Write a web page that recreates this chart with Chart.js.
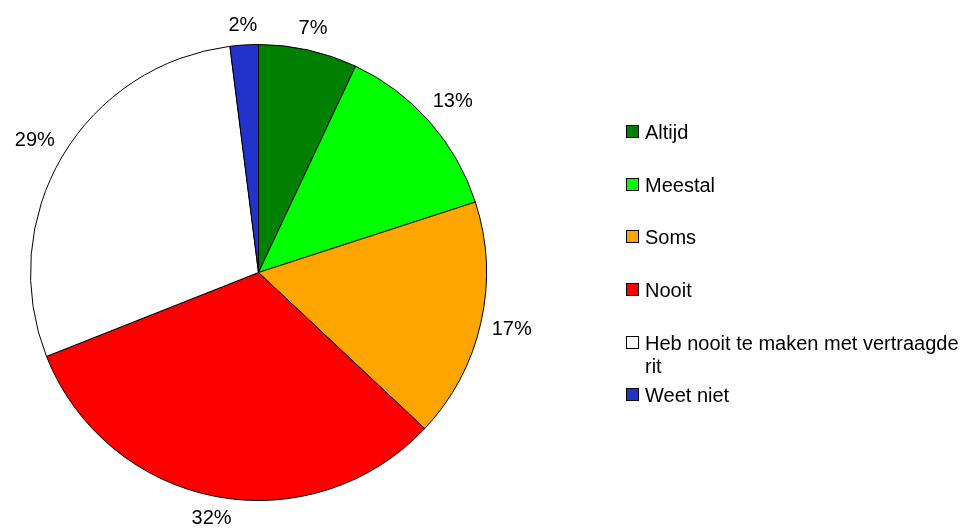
<!DOCTYPE html>
<html>
<head>
<meta charset="utf-8">
<script src="https://cdn.jsdelivr.net/npm/chart.js@4/dist/chart.umd.min.js"></script>
<style>
html,body{margin:0;padding:0;background:#fff;}
#wrap{width:972px;height:530px;position:relative;}
</style>
</head>
<body>
<div id="wrap"><canvas id="c" width="972" height="530"></canvas></div>
<script>
const categories = ["Altijd", "Meestal", "Soms", "Nooit", "Heb nooit te maken met vertraagde rit", "Weet niet"];
const values = [7, 13, 17, 32, 29, 2];
const colors = ["#008000", "#00FF00", "#FFA500", "#FF0000", "#FFFFFF", "#2233CC"];

const FONT = "20px 'Liberation Sans', Arial, sans-serif";

const outsideLabels = {
  id: 'outsideLabels',
  afterDatasetsDraw(chart) {
    const ctx = chart.ctx;
    const meta = chart.getDatasetMeta(0);
    const total = values.reduce((a, b) => a + b, 0);
    ctx.save();
    ctx.font = FONT;
    ctx.fillStyle = '#000';
    ctx.textAlign = 'center';
    ctx.textBaseline = 'middle';
    meta.data.forEach((arc, i) => {
      const p = arc.getProps(['x', 'y', 'startAngle', 'endAngle', 'outerRadius'], true);
      const mid = (p.startAngle + p.endAngle) / 2;
      const txt = Math.round(values[i] / total * 100) + '%';
      const w = ctx.measureText(txt).width;
      const h = 18;
      const cx = Math.cos(mid), cy = Math.sin(mid);
      const ext = Math.abs(cx) * w / 2 + Math.abs(cy) * h / 2;
      const d = p.outerRadius + 10 + ext;
      ctx.fillText(txt, p.x + cx * d, p.y + cy * d);
    });
    ctx.restore();
  }
};

const sideLegend = {
  id: 'sideLegend',
  afterDraw(chart) {
    const ctx = chart.ctx;
    const x0 = 626, tx = 645, maxW = 972 - tx - 1;
    const rows = [132, 185, 237, 290, 343, 395];
    ctx.save();
    ctx.font = FONT;
    ctx.textAlign = 'left';
    ctx.textBaseline = 'middle';
    categories.forEach((c, i) => {
      const y = rows[i];
      ctx.fillStyle = colors[i];
      ctx.fillRect(x0 + 0.5, y - 6.5, 12, 12);
      ctx.strokeStyle = '#000';
      ctx.lineWidth = 1;
      ctx.strokeRect(x0 + 0.5, y - 6.5, 12, 12);
      const words = c.split(' ');
      const lines = [];
      let cur = '';
      words.forEach(wd => {
        const t = cur ? cur + ' ' + wd : wd;
        if (ctx.measureText(t).width > maxW && cur) { lines.push(cur); cur = wd; }
        else cur = t;
      });
      lines.push(cur);
      ctx.fillStyle = '#000';
      lines.forEach((ln, k) => ctx.fillText(ln, tx, y + 1 + k * 23));
    });
    ctx.restore();
  }
};

new Chart(document.getElementById('c'), {
  type: 'pie',
  data: {
    labels: categories,
    datasets: [{
      data: values,
      backgroundColor: colors,
      borderColor: '#000',
      borderWidth: 1
    }]
  },
  options: {
    responsive: false,
    animation: false,
    layout: { padding: { top: 44, bottom: 29, left: 30, right: 485 } },
    plugins: {
      legend: { display: false },
      tooltip: { enabled: false }
    }
  },
  plugins: [outsideLabels, sideLegend]
});
</script>
</body>
</html>
